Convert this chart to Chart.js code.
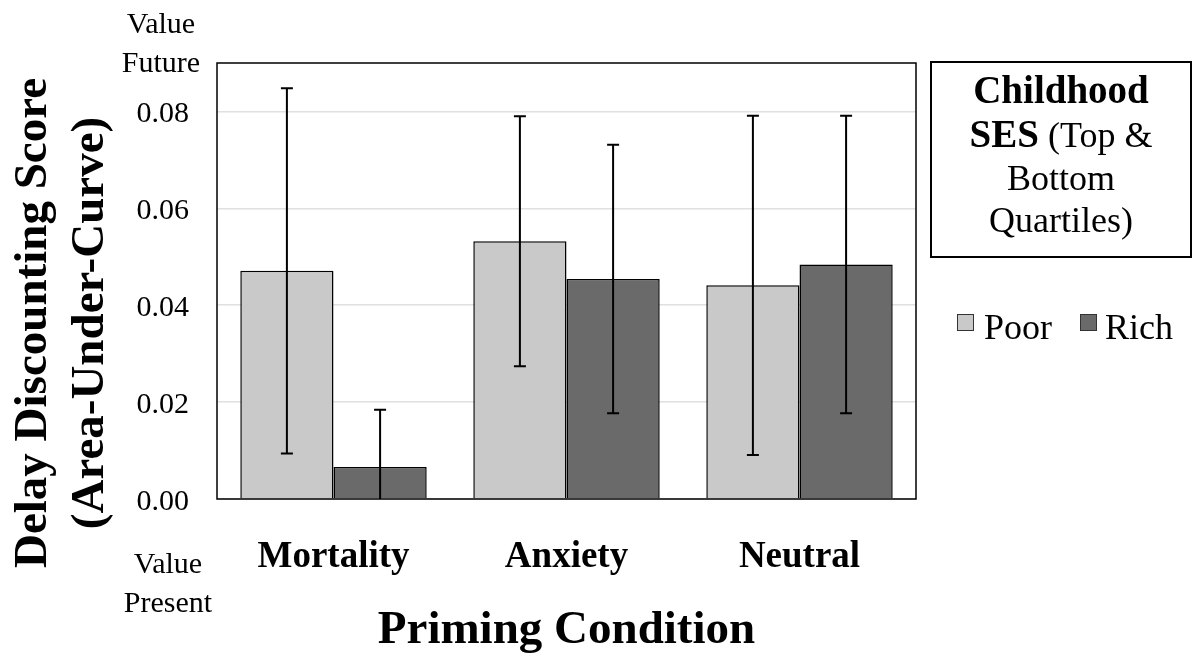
<!DOCTYPE html>
<html>
<head>
<meta charset="utf-8">
<script src="https://cdn.jsdelivr.net/npm/chart.js@4"></script>
<style>
html, body { margin: 0; padding: 0; background: #fff; }
</style>
</head>
<body>
<canvas id="myChart" width="1193" height="654"></canvas>
<script>
var categories = ['Mortality', 'Anxiety', 'Neutral'];
var poorValues = [0.0471, 0.0532, 0.0441];
var richValues = [0.0066, 0.0454, 0.0484];
// half-width of the error bars
var poorErrors = [0.0377, 0.0258, 0.0350];
var richErrors = [0.0118, 0.0277, 0.0307];
var yTicks = [0, 0.02, 0.04, 0.06, 0.08];

var serif = "'Liberation Serif', 'Times New Roman', serif";

var extras = {
    id: 'extras',
    afterDatasetsDraw: function(chart) {
        var ctx = chart.ctx, area = chart.chartArea, y = chart.scales.y;

        // error bars, clipped to the plot
        ctx.save();
        ctx.beginPath();
        ctx.rect(area.left, area.top, area.right - area.left, area.bottom - area.top);
        ctx.clip();
        ctx.strokeStyle = '#000';
        ctx.lineWidth = 2;
        chart.data.datasets.forEach(function(ds, i) {
            chart.getDatasetMeta(i).data.forEach(function(bar, j) {
                var hi = y.getPixelForValue(ds.data[j] + ds.errors[j]);
                var lo = y.getPixelForValue(ds.data[j] - ds.errors[j]);
                ctx.beginPath();
                ctx.moveTo(bar.x, hi); ctx.lineTo(bar.x, lo);
                ctx.moveTo(bar.x - 6, hi); ctx.lineTo(bar.x + 6, hi);
                ctx.moveTo(bar.x - 6, lo); ctx.lineTo(bar.x + 6, lo);
                ctx.stroke();
            });
        });
        ctx.restore();

        // plot frame
        ctx.save();
        ctx.strokeStyle = '#000';
        ctx.lineWidth = 1.5;
        ctx.strokeRect(area.left, area.top, area.right - area.left, area.bottom - area.top);
        ctx.restore();
    },
    afterDraw: function(chart) {
        var ctx = chart.ctx;
        ctx.save();
        ctx.fillStyle = '#000';
        ctx.textBaseline = 'alphabetic';
        ctx.textAlign = 'center';

        // y axis title (two lines, rotated)
        ctx.font = 'bold 47px ' + serif;
        [['Delay Discounting Score', 46], ['(Area-Under-Curve)', 103]].forEach(function(l) {
            ctx.save();
            ctx.translate(l[1], 323);
            ctx.rotate(-Math.PI / 2);
            ctx.fillText(l[0], 0, 0);
            ctx.restore();
        });

        // end labels of the y axis
        ctx.font = '30px ' + serif;
        ctx.fillText('Value', 161, 33);
        ctx.fillText('Future', 161, 72);
        ctx.fillText('Value', 168, 573);
        ctx.fillText('Present', 168, 612);

        // legend title box
        ctx.strokeStyle = '#000';
        ctx.lineWidth = 2;
        ctx.strokeRect(931, 62, 260, 195);
        ctx.font = 'bold 39px ' + serif;
        ctx.fillText('Childhood', 1061, 103);
        var boldPart = 'SES', normalPart = ' (Top &';
        var wb = ctx.measureText(boldPart).width;
        ctx.font = '36px ' + serif;
        var wn = ctx.measureText(normalPart).width;
        var sx = 1061 - (wb + wn) / 2;
        ctx.textAlign = 'left';
        ctx.font = 'bold 39px ' + serif;
        ctx.fillText(boldPart, sx, 147);
        ctx.font = '36px ' + serif;
        ctx.fillText(normalPart, sx + wb, 147);
        ctx.textAlign = 'center';
        ctx.fillText('Bottom', 1061, 190);
        ctx.fillText('Quartiles)', 1061, 232);

        // legend items
        var boxX = [957, 1080], textX = [984, 1105];
        ctx.textAlign = 'left';
        ctx.lineWidth = 1;
        chart.data.datasets.forEach(function(ds, i) {
            ctx.fillStyle = ds.backgroundColor;
            ctx.fillRect(boxX[i], 314, 17, 17);
            ctx.strokeStyle = '#333';
            ctx.strokeRect(boxX[i] + 0.5, 314.5, 16, 16);
            ctx.fillStyle = '#000';
            ctx.fillText(ds.label, textX[i], 339);
        });
        ctx.restore();
    }
};

var ctx = document.getElementById('myChart').getContext('2d');
var chart = new Chart(ctx, {
    type: 'bar',
    data: {
        labels: categories,
        datasets: [{
            label: 'Poor',
            data: poorValues,
            errors: poorErrors,
            backgroundColor: '#c9c9c9',
            borderColor: '#000',
            borderWidth: 1.5
        }, {
            label: 'Rich',
            data: richValues,
            errors: richErrors,
            backgroundColor: '#6a6a6a',
            borderColor: '#000',
            borderWidth: 1.5
        }]
    },
    options: {
        responsive: false,
        animation: false,
        categoryPercentage: 0.8,
        barPercentage: 1.0,
        layout: { padding: { top: 63, right: 277, bottom: 0, left: 0 } },
        plugins: {
            legend: { display: false },
            tooltip: { enabled: false }
        },
        scales: {
            x: {
                grid: { display: false, drawTicks: false },
                border: { display: false },
                ticks: {
                    color: '#000',
                    font: { family: serif, size: 37, weight: 'bold' },
                    padding: 36,
                    maxRotation: 0
                },
                title: {
                    display: true,
                    text: 'Priming Condition',
                    color: '#000',
                    font: { family: serif, size: 47, weight: 'bold', lineHeight: 1 },
                    padding: 0
                },
                afterFit: function(scale) { scale.height = 155; }
            },
            y: {
                min: 0,
                max: 0.09,
                afterBuildTicks: function(axis) {
                    axis.ticks = yTicks.map(function(v) { return { value: v }; });
                },
                grid: { color: '#e0e0e0', lineWidth: 1.5, drawTicks: false },
                border: { display: false },
                ticks: {
                    color: '#000',
                    font: { family: serif, size: 30 },
                    padding: 28,
                    labelOffset: 3,
                    callback: function(v) { return Number(v).toFixed(2); }
                },
                afterFit: function(scale) { scale.width = 217; }
            }
        }
    },
    plugins: [extras]
});
</script>
</body>
</html>
